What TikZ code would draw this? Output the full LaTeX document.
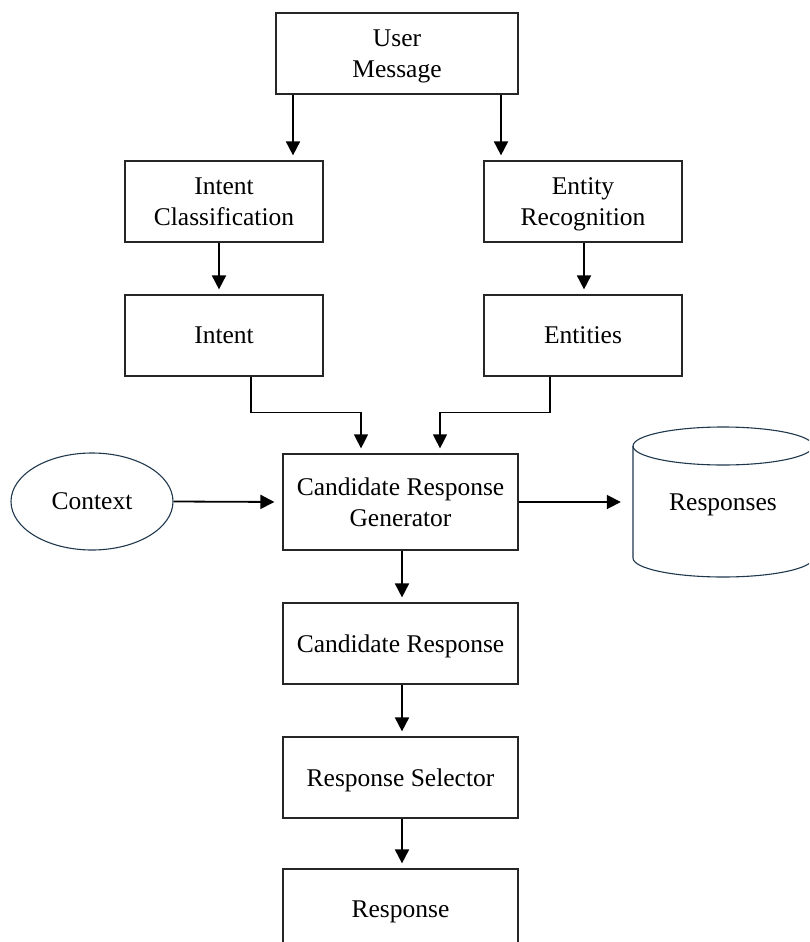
\documentclass[tikz,border=0pt]{standalone}
\usepackage{fontspec}
\setmainfont{Liberation Serif}
\usetikzlibrary{arrows.meta,shapes.geometric}
\definecolor{edgeblue}{RGB}{31,56,77}
\tikzset{
  txt/.style={font=\fontsize{25.5}{31}\selectfont, align=center, text=black, text depth=0pt},
  box/.style={txt, draw=black!85, line width=1.2pt, rectangle, inner sep=0pt},
  flow/.style={line width=1.8pt, -{Triangle[length=14pt,width=14pt]}, shorten >=5pt},
  elbow/.style={line width=1.2pt, -{Triangle[length=14pt,width=14pt]}, shorten >=5pt},
}
\begin{document}
\begin{tikzpicture}[x=1pt,y=-1pt]
\useasboundingbox (0,0) rectangle (809,942);
\clip (0,0) rectangle (809,942);
% cylinder outline
\draw[edgeblue, line width=1.1pt, fill=white]
  (633,446) -- (633,558) arc[start angle=180, end angle=360, x radius=90pt, y radius=19pt]
  -- (813,446);
\draw[edgeblue, line width=1.1pt] (723,446) ellipse[x radius=90pt, y radius=19pt];
% nodes
\node[box, minimum width=242pt, minimum height=81pt] (user) at (397,53.5) {User\\Message};
\node[box, minimum width=198pt, minimum height=81pt] (ic) at (224,201.5) {Intent\\Classification};
\node[box, minimum width=198pt, minimum height=81pt] (er) at (583,201.5) {Entity\\Recognition};
\node[box, minimum width=198pt, minimum height=81pt] (intent) at (224,335.5) {Intent};
\node[box, minimum width=198pt, minimum height=81pt] (ent) at (583,335.5) {Entities};
\node[box, minimum width=235pt, minimum height=96pt] (crg) at (400.5,502) {Candidate Response\\Generator};
\node[box, minimum width=235pt, minimum height=81pt] (cr) at (400.5,643.5) {Candidate Response};
\node[box, minimum width=235pt, minimum height=81pt] (rs) at (400.5,777.5) {Response Selector};
\node[box, minimum width=235pt, minimum height=81pt] (resp) at (400.5,909.5) {Response};
\node[txt, ellipse, draw=edgeblue, line width=1.1pt, minimum width=162pt, minimum height=97pt, inner sep=0pt] (ctx) at (92,501.5) {Context};
\node[txt, minimum width=180pt, minimum height=150pt, inner sep=0pt] (db) at (723,502) {Responses};
% connectors
\draw[flow] ([xshift=-104pt]user.south) -- ([xshift=-104pt]user.south |- ic.north);
\draw[flow] ([xshift=104pt]user.south) -- ([xshift=104pt]user.south |- er.north);
\draw[flow] ([xshift=-5pt]ic.south) -- ([xshift=-5pt]intent.north);
\draw[flow] ([xshift=1pt]er.south) -- ([xshift=1pt]ent.north);
\draw[elbow] ([xshift=27pt]intent.south) -- ++(0,36) -| ([xshift=-39.5pt]crg.north);
\draw[elbow] ([xshift=-33pt]ent.south) -- ++(0,36) -| ([xshift=39.5pt]crg.north);
\draw[flow, shorten >=8pt] (ctx.east) -- (crg.west);
\draw[flow, shorten >=12pt] (crg.east) -- (db.west);
\draw[flow] ([xshift=1.5pt]crg.south) -- ([xshift=1.5pt]cr.north);
\draw[flow] ([xshift=1.5pt]cr.south) -- ([xshift=1.5pt]rs.north);
\draw[flow] ([xshift=1.5pt]rs.south) -- ([xshift=1.5pt]resp.north);
\end{tikzpicture}
\end{document}
